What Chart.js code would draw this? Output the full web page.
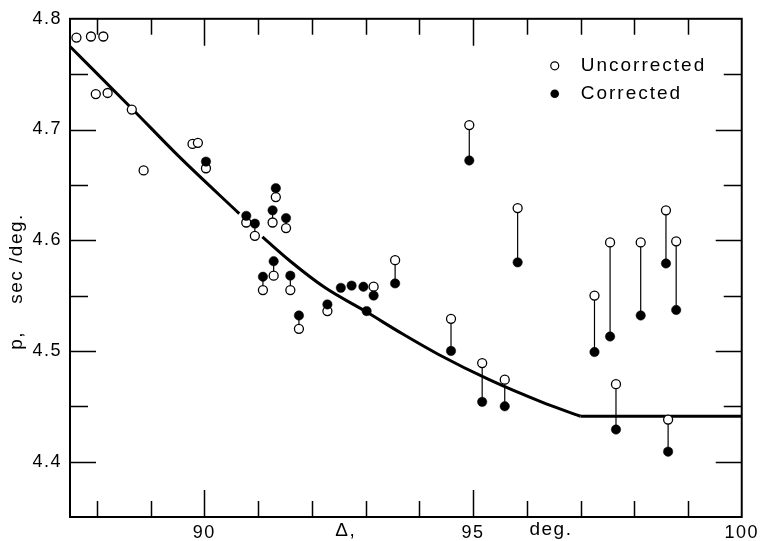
<!DOCTYPE html>
<html><head><meta charset="utf-8">
<script src="https://cdn.jsdelivr.net/npm/chart.js@4/dist/chart.umd.min.js"></script>
<style>html,body{margin:0;padding:0;background:#fff}</style>
</head><body>
<canvas id="c" width="764" height="541"></canvas>
<script>
// ---- data ----
// open circles only (no correction shown)
const openOnlyX = [87.62, 87.89, 88.12, 87.98, 88.20, 88.65, 88.87, 89.78, 89.88];
const openOnlyY = [4.783, 4.784, 4.784, 4.732, 4.733, 4.718, 4.663, 4.687, 4.688];
// filled circles only
const filledOnlyX = [92.54, 92.74, 92.96, 93.02];
const filledOnlyY = [4.557, 4.559, 4.558, 4.536];
// paired points: uncorrected / corrected at the same distance
const pairX   = [90.03, 91.33, 91.27, 90.78, 90.94, 91.52, 91.29, 91.09, 91.60, 91.76, 92.29, 93.15, 93.55, 95.83, 94.93, 94.59, 95.17, 95.59, 97.26, 97.55, 97.66, 98.12, 98.59, 98.78, 98.63];
const pairUnc = [4.665, 4.639, 4.616, 4.616, 4.604, 4.611, 4.568, 4.555, 4.555, 4.520, 4.536, 4.558, 4.582, 4.629, 4.704, 4.529, 4.489, 4.474, 4.550, 4.598, 4.470, 4.598, 4.627, 4.599, 4.438];
const pairCor = [4.671, 4.647, 4.627, 4.622, 4.615, 4.620, 4.581, 4.567, 4.568, 4.532, 4.542, 4.550, 4.561, 4.580, 4.672, 4.500, 4.454, 4.450, 4.499, 4.513, 4.429, 4.532, 4.579, 4.537, 4.409];
// fitted curve: curved part (null = gap in the drawn line) and flat part
const curveX = [87.5, 88.65, 89.54, 90.65, 90.86, 91.08, 91.6, 92.25, 92.99, 93.7, 94.35, 95.3, 96.27, 97.0];
const curveY = [4.775, 4.719, 4.675, 4.624, null, 4.603, 4.581, 4.557, 4.536, 4.515, 4.497, 4.474, 4.454, 4.441];
const flatX = [97.0, 100.0];
const flatY = [4.441, 4.441];
// axis ticks
const xLabelTicks = [90, 95, 100];
const xMinorTicks = [88, 89, 90, 91, 92, 93, 94, 95, 96, 97, 98, 99];
const yLabelTicks = [4.4, 4.5, 4.6, 4.7, 4.8];
const yMinorTicks = [4.40, 4.45, 4.50, 4.55, 4.60, 4.65, 4.70, 4.75];
const legendLabels = ['Uncorrected', 'Corrected'];

// ---- build datasets ----
const openPts = openOnlyX.map((x, i) => ({x, y: openOnlyY[i]}))
  .concat(pairX.map((x, i) => ({x, y: pairUnc[i]})));
const filledPts = filledOnlyX.map((x, i) => ({x, y: filledOnlyY[i]}))
  .concat(pairX.map((x, i) => ({x, y: pairCor[i]})));
const connPts = [];
pairX.forEach((x, i) => { connPts.push({x, y: pairUnc[i]}, {x, y: pairCor[i]}, {x, y: null}); });
const curvePts = curveX.map((x, i) => ({x, y: curveY[i]}));
const flatPts = flatX.map((x, i) => ({x, y: flatY[i]}));

const FONT = '"Liberation Sans", Arial, sans-serif';

const spacingPlugin = {
  id: 'spacing',
  beforeUpdate(chart) { chart.ctx.letterSpacing = '1.5px'; },
  beforeDraw(chart) { chart.ctx.letterSpacing = '1.5px'; }
};

const framePlugin = {
  id: 'frame',
  afterDraw(chart) {
    const {ctx, chartArea: a, scales: {x, y}} = chart;
    ctx.save();
    ctx.strokeStyle = '#000';
    ctx.lineCap = 'butt';
    // ticks
    ctx.lineWidth = 1.5;
    ctx.beginPath();
    xMinorTicks.forEach(v => {
      const px = Math.round(x.getPixelForValue(v)) + 0.5;
      const len = (v % 5 === 0) ? 27 : 16;
      ctx.moveTo(px, a.bottom); ctx.lineTo(px, a.bottom - len);
      ctx.moveTo(px, a.top); ctx.lineTo(px, a.top + len);
    });
    yMinorTicks.forEach(v => {
      const py = Math.round(y.getPixelForValue(v)) + 0.5;
      const len = (Math.abs(v * 10 - Math.round(v * 10)) < 1e-6) ? 26 : 18;
      ctx.moveTo(a.left, py); ctx.lineTo(a.left + len, py);
      ctx.moveTo(a.right, py); ctx.lineTo(a.right - len, py);
    });
    ctx.stroke();
    // frame
    ctx.lineWidth = 2;
    ctx.strokeRect(a.left, a.top, a.right - a.left, a.bottom - a.top);

    // legend
    const lx = a.right - 187, ly1 = a.top + 47, ly2 = a.top + 75;
    ctx.lineWidth = 1.2;
    ctx.fillStyle = '#fff';
    ctx.beginPath(); ctx.arc(lx, ly1, 4, 0, Math.PI * 2); ctx.fill(); ctx.stroke();
    ctx.fillStyle = '#000';
    ctx.beginPath(); ctx.arc(lx, ly2, 4.3, 0, Math.PI * 2); ctx.fill();
    ctx.letterSpacing = '2px';
    ctx.font = '19px ' + FONT;
    ctx.textBaseline = 'middle';
    ctx.textAlign = 'left';
    ctx.fillText(legendLabels[0], lx + 26, ly1);
    ctx.fillText(legendLabels[1], lx + 26, ly2);

    // x-axis words
    ctx.letterSpacing = '1.5px';
    ctx.font = '19px ' + FONT;
    ctx.textAlign = 'center';
    ctx.fillText('\u0394,', x.getPixelForValue(92.63), 531);
    ctx.fillText('deg.', x.getPixelForValue(96.45), 530);
    ctx.restore();
  }
};

new Chart(document.getElementById('c'), {
  type: 'scatter',
  data: {
    datasets: [
      { label: 'Corrected', data: filledPts, order: 0, pointRadius: 4.7, pointBackgroundColor: '#000', pointBorderColor: '#000', pointBorderWidth: 0.5, showLine: false },
      { label: 'Uncorrected', data: openPts, order: 1, pointRadius: 4.5, pointBackgroundColor: '#fff', pointBorderColor: '#000', pointBorderWidth: 1.3, showLine: false },
      { label: 'conn', data: connPts, order: 2, showLine: true, spanGaps: false, borderColor: '#000', borderWidth: 1.2, pointRadius: 0 },
      { label: 'curve', data: curvePts, order: 3, showLine: true, spanGaps: false, borderColor: '#000', borderWidth: 3, pointRadius: 0, cubicInterpolationMode: 'monotone' },
      { label: 'flat', data: flatPts, order: 3, showLine: true, borderColor: '#000', borderWidth: 3, pointRadius: 0, tension: 0 }
    ]
  },
  options: {
    responsive: false,
    animation: false,
    devicePixelRatio: 1,
    layout: { padding: { left: 0, top: 16, right: 22, bottom: 0 } },
    plugins: { legend: { display: false }, tooltip: { enabled: false } },
    scales: {
      x: {
        type: 'linear', min: 87.5, max: 100,
        grid: { display: false, drawTicks: false },
        border: { display: false },
        afterBuildTicks: s => { s.ticks = xLabelTicks.map(v => ({value: v})); },
        afterFit: s => { s.height = 24; },
        ticks: { color: '#000', padding: 5, maxRotation: 0, autoSkip: false, font: { family: FONT, size: 18 }, callback: v => String(v) }
      },
      y: {
        type: 'linear', min: 4.35, max: 4.8,
        grid: { display: false, drawTicks: false },
        border: { display: false },
        afterBuildTicks: s => { s.ticks = yLabelTicks.map(v => ({value: v})); },
        afterFit: s => { s.width = 70; },
        ticks: { color: '#000', padding: 8, font: { family: FONT, size: 18 }, callback: v => Number(v).toFixed(1) },
        title: { display: true, text: 'p,    sec /deg.    ', color: '#000', padding: { top: 5, bottom: 0 }, font: { family: FONT, size: 19 } }
      }
    }
  },
  plugins: [spacingPlugin, framePlugin]
});
</script>
</body></html>
